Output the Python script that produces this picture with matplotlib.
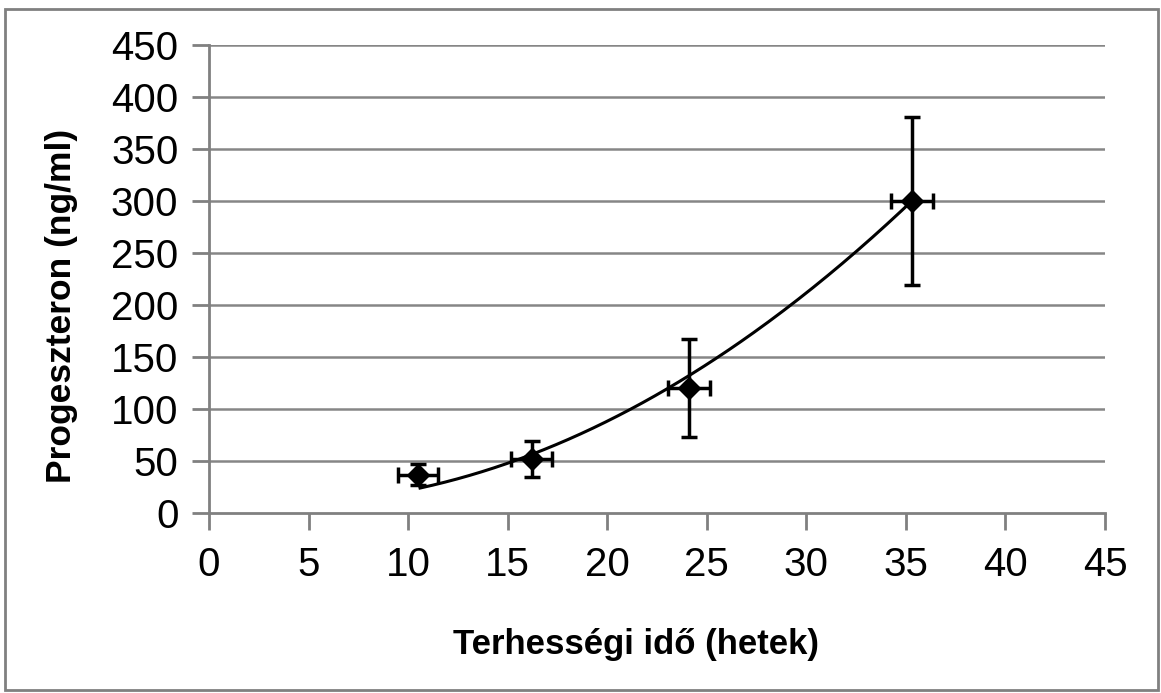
import numpy as np
import matplotlib
matplotlib.use('Agg')
import matplotlib.pyplot as plt
from matplotlib.patches import Rectangle

# adatok (leolvasva)
het = [10.5, 16.2, 24.1, 35.3]
het_err = [1.0, 1.05, 1.05, 1.05]
prog = [37, 52, 120, 300]
prog_err = [10, 17, 47, 81]

# trendvonal egyutthatoi (masodfoku, leolvasva) es tartomanya
trend_coef = [0.2834, -1.834, 11.6]
trend_range = [10.6, 35.3]

x_ticks = list(range(0, 50, 5))
y_ticks = list(range(0, 500, 50))

plt.rcParams['font.family'] = ['Liberation Sans', 'DejaVu Sans']

fig = plt.figure(figsize=(11.61, 6.93), dpi=100)
ax = fig.add_axes([209/1161, 1 - 513/693, (1105-209)/1161, (513-45)/693])

# kulso keret
fig.patches.append(Rectangle((5/1161, 3/693), 1153/1161, 681/693, transform=fig.transFigure,
                             fill=False, edgecolor='#808080', linewidth=2))

# racsvonalak
for y in y_ticks[1:]:
    ax.axhline(y, color='#868686', linewidth=1.8, zorder=1)

# trendvonal
xs = np.linspace(trend_range[0], trend_range[1], 200)
ax.plot(xs, np.polyval(trend_coef, xs), color='black', linewidth=2.2, zorder=3)

ax.errorbar(het, prog, xerr=het_err, yerr=prog_err, fmt='D', color='black',
            markersize=11, elinewidth=2.5, capsize=6, capthick=2.5, zorder=4)

ax.set_xlim(0, 45)
ax.set_ylim(0, 450)
ax.set_xticks(x_ticks)
ax.set_yticks(y_ticks)
ax.tick_params(labelsize=29, colors='#808080', labelcolor='black', width=2, length=12,
               direction='out')
ax.tick_params(axis='x', pad=12)
ax.tick_params(axis='y', pad=10)

for s in ['top', 'right']:
    ax.spines[s].set_visible(False)
for s in ['left', 'bottom']:
    ax.spines[s].set_color('#808080')
    ax.spines[s].set_linewidth(2)

ax.set_xlabel('Terhességi idő (hetek)', fontsize=25, fontweight='bold')
ax.set_ylabel('Progeszteron (ng/ml)', fontsize=25.5, fontweight='bold')
ax.xaxis.set_label_coords(0.477, -0.245)
ax.yaxis.set_label_coords(-0.146, 0.442)

fig.savefig('out.png', dpi=100)
